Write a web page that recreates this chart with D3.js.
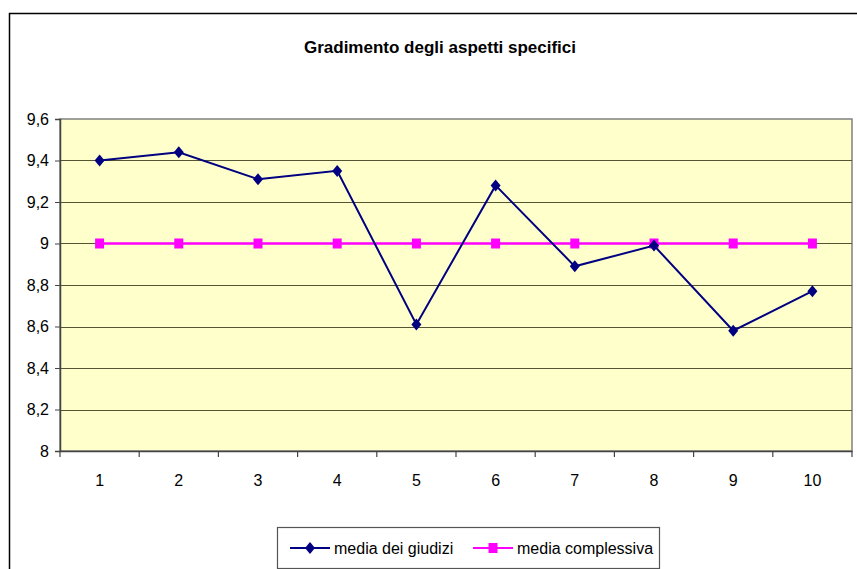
<!DOCTYPE html>
<html>
<head>
<meta charset="utf-8">
<script src="https://cdn.jsdelivr.net/npm/d3@7"></script>
<style>
  body { margin: 0; background: #fff; }
  text { font-family: "Liberation Sans Narrow", "Liberation Sans", Arial, sans-serif; }
</style>
</head>
<body>
<svg id="chart" width="857" height="569"></svg>
<script>
var categories = ["1", "2", "3", "4", "5", "6", "7", "8", "9", "10"]
var mediaGiudizi = [9.40, 9.44, 9.31, 9.35, 8.61, 9.28, 8.89, 8.99, 8.58, 8.77]
var mediaComplessiva = [9, 9, 9, 9, 9, 9, 9, 9, 9, 9]
var yTicks = [8, 8.2, 8.4, 8.6, 8.8, 9, 9.2, 9.4, 9.6]
var seriesNames = ["media dei giudizi", "media complessiva"]

var dimensions = {
    width: 857,
    height: 569,
    margin: { top: 119, bottom: 118, left: 60, right: 5 }
}

var svg = d3.select("#chart")

// outer chart frame
svg.append("rect")
   .attr("x", 9.5).attr("y", 13.5)
   .attr("width", 870).attr("height", 600)
   .attr("fill", "#fff")
   .attr("stroke", "#000").attr("stroke-width", 1.5)

svg.append("text")
   .attr("x", 440).attr("y", 53)
   .attr("text-anchor", "middle")
   .style("font-size", "17px")
   .style("font-weight", "bold")
   .text("Gradimento degli aspetti specifici")

var x0 = dimensions.margin.left, x1 = 852
var yTop = dimensions.margin.top, yBot = 451

var xScale = d3.scaleBand()
               .domain(categories)
               .range([x0, x1])

var yScale = d3.scaleLinear()
               .domain([8, 9.6])
               .range([yBot, yTop])

// plot background
svg.append("rect")
   .attr("x", x0).attr("y", yTop)
   .attr("width", x1 - x0).attr("height", yBot - yTop)
   .attr("fill", "#ffffcc")
   .attr("stroke", "#808080").attr("stroke-width", 1.5)

// gridlines
svg.append("g")
   .selectAll("line")
   .data(yTicks.filter(d => d > 8 && d < 9.6))
   .enter()
   .append("line")
   .attr("x1", x0).attr("x2", x1)
   .attr("y1", d => Math.round(yScale(d)) + 0.5)
   .attr("y2", d => Math.round(yScale(d)) + 0.5)
   .attr("stroke", "#555533").attr("stroke-width", 1.2)

var fmt = d => String(+d.toFixed(1)).replace(".", ",")

var yAxis = svg.append("g")
   .attr("transform", `translate(${x0}, 0)`)
   .call(d3.axisLeft(yScale).tickValues(yTicks).tickSize(5).tickPadding(6).tickFormat(fmt))
yAxis.select(".domain").attr("stroke", "#444").attr("stroke-width", 1.5)
yAxis.selectAll(".tick line").attr("stroke", "#444")
yAxis.selectAll("text")
     .style("font-size", "16px")
     .style("font-family", "'Liberation Sans Narrow', 'Liberation Sans', Arial, sans-serif")
     .attr("fill", "#000")

var xAxis = svg.append("g")
   .attr("transform", `translate(0, ${yBot})`)
   .call(d3.axisBottom(xScale).tickSize(0).tickPadding(24))
xAxis.select(".domain").attr("stroke", "#444").attr("stroke-width", 1.5)
xAxis.selectAll("text")
     .style("font-size", "16px")
     .style("font-family", "'Liberation Sans Narrow', 'Liberation Sans', Arial, sans-serif")
     .attr("fill", "#000")

// category boundary ticks
svg.append("g")
   .selectAll("line")
   .data(categories.concat(["end"]))
   .enter()
   .append("line")
   .attr("x1", (d, i) => x0 + i * xScale.bandwidth())
   .attr("x2", (d, i) => x0 + i * xScale.bandwidth())
   .attr("y1", yBot).attr("y2", yBot + 6)
   .attr("stroke", "#444").attr("stroke-width", 1.2)

var cx = (d, i) => xScale(categories[i]) + xScale.bandwidth() / 2

var lineGen = d3.line()
                .x((d, i) => cx(d, i))
                .y(d => yScale(d))

// media complessiva
svg.append("path")
   .datum(mediaComplessiva)
   .attr("d", lineGen)
   .attr("fill", "none")
   .attr("stroke", "#ff00ff").attr("stroke-width", 2.5)

svg.append("g")
   .selectAll("rect")
   .data(mediaComplessiva)
   .enter()
   .append("rect")
   .attr("x", (d, i) => cx(d, i) - 4.5)
   .attr("y", d => yScale(d) - 5)
   .attr("width", 9).attr("height", 10)
   .attr("fill", "#ff00ff")

// media dei giudizi
svg.append("path")
   .datum(mediaGiudizi)
   .attr("d", lineGen)
   .attr("fill", "none")
   .attr("stroke", "#000080").attr("stroke-width", 2)

var diamond = "M0,-6L5,0L0,6L-5,0Z"

svg.append("g")
   .selectAll("path")
   .data(mediaGiudizi)
   .enter()
   .append("path")
   .attr("d", diamond)
   .attr("transform", (d, i) => `translate(${cx(d, i)}, ${yScale(d)})`)
   .attr("fill", "#000080")

// legend
var legend = svg.append("g")
legend.append("rect")
      .attr("x", 277.5).attr("y", 527.5)
      .attr("width", 382).attr("height", 41)
      .attr("fill", "#fff")
      .attr("stroke", "#555").attr("stroke-width", 1.2)

var legendItems = [
    { name: seriesNames[0], color: "#000080", x: 290 },
    { name: seriesNames[1], color: "#ff00ff", x: 473 }
]

legendItems.forEach((it, i) => {
    legend.append("line")
          .attr("x1", it.x).attr("x2", it.x + 40)
          .attr("y1", 548).attr("y2", 548)
          .attr("stroke", it.color).attr("stroke-width", 2)
    if (i === 0) {
        legend.append("path")
              .attr("d", diamond)
              .attr("transform", `translate(${it.x + 20}, 548)`)
              .attr("fill", it.color)
    } else {
        legend.append("rect")
              .attr("x", it.x + 15.5).attr("y", 543)
              .attr("width", 9).attr("height", 10)
              .attr("fill", it.color)
    }
    legend.append("text")
          .attr("x", it.x + 44).attr("y", 548)
          .attr("dy", "0.35em")
          .style("font-size", "16px")
          .text(it.name)
})
</script>
</body>
</html>
